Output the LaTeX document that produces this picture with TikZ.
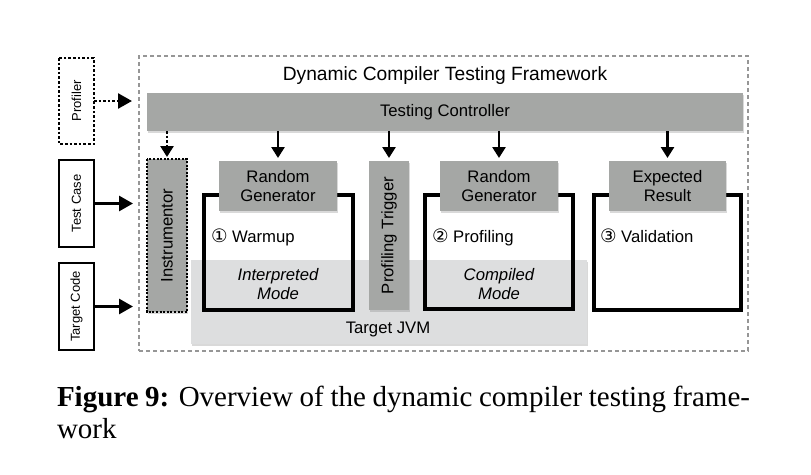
\documentclass[tikz,border=0pt]{standalone}
\usepackage{fontspec}
\usepackage{graphicx}
\setmainfont{Liberation Sans}
\newfontfamily\capfont{Liberation Serif}
\newfontfamily\symfont{DejaVu Sans}
\usetikzlibrary{arrows.meta,shadows}
\definecolor{boxgray}{RGB}{165,167,165}
\definecolor{jvmgray}{RGB}{221,222,223}
\definecolor{dashgray}{RGB}{150,150,150}
\newcommand{\fsz}[2]{\fontsize{#1}{#2}\selectfont}
\newcommand{\circnum}[1]{{\symfont\fontsize{18.5}{19}\selectfont #1}}
\begin{document}
\begin{tikzpicture}[x=1pt,y=-1pt,
  every node/.style={inner sep=0pt, outer sep=0pt},
  softshadow/.style={drop shadow={shadow xshift=1.2pt, shadow yshift=-1.8pt, opacity=0.3}},
  graybox/.style={fill=boxgray, softshadow, align=center, font=\fsz{16.7}{19}},
  sidebox/.style={draw=black, line width=2pt, fill=white, font=\fsz{13}{15}},
  stagebox/.style={draw=black, line width=4pt},
  fwbox/.style={draw=dashgray, line width=2pt, dash pattern=on 4pt off 3pt},
  dotline/.style={line width=2.6pt, dash pattern=on 2.6pt off 2pt},
  sidearrow/.style={line width=2.8pt, -{Triangle[length=14pt,width=15pt]}},
  downarrow/.style={line width=2.6pt, -{Triangle[length=11pt,width=13pt]}},
  lbl/.style={font=\fsz{16.7}{19}},
  ilbl/.style={font=\fsz{16.7}{19}\itshape, align=center}
]
\useasboundingbox (0,0) rectangle (811,474);

% framework frame
\node[fwbox, minimum width=609pt, minimum height=295pt] (fw) at (443.5,203.5) {};
\node[anchor=base, font=\fsz{19.2}{22}] (title) at (445,80) {Dynamic Compiler Testing Framework};

% testing controller
\node[graybox, minimum width=596pt, minimum height=38pt] (ctrl) at (445,112) {Testing Controller};

% side inputs
\node[sidebox, draw=none, minimum width=35pt, minimum height=86pt] (profiler) at (76.5,101) {\rotatebox{90}{Profiler}};
\draw[dotline, line width=2.8pt] (profiler.north west) rectangle (profiler.south east);
\node[sidebox, minimum width=35pt, minimum height=87pt] (testcase) at (76.5,203.5) {\rotatebox{90}{Test Case}};
\node[sidebox, minimum width=35pt, minimum height=87pt] (targetcode) at (76.5,306.5) {\rotatebox{90}{Target Code}};

% target JVM region
\node[fill=jvmgray, softshadow, minimum width=396pt, minimum height=84pt] (jvm) at (389,302) {};
\node[lbl, anchor=center] (jvmlabel) at (388,329) {Target JVM};

% instrumentor
\node[graybox, minimum width=40pt, minimum height=153pt] (instr) at (167,235.5) {\rotatebox{90}{Instrumentor}};
\draw[dotline, line width=2.2pt, dash pattern=on 2pt off 1.6pt] (instr.north west) rectangle (instr.south east);

% stage frames
\node[stagebox, minimum width=149pt, minimum height=115pt] (frame1) at (278.5,252.5) {};
\node[stagebox, minimum width=148pt, minimum height=114pt] (frame2) at (499,252) {};
\node[stagebox, minimum width=147pt, minimum height=115pt] (frame3) at (667.5,252.5) {};

% gray boxes on top of frames
\node[graybox, minimum width=118pt, minimum height=50pt] (rg1) at (278,186) {Random\\Generator};
\node[graybox, minimum width=40pt, minimum height=149pt] (pt) at (389,235.5) {\rotatebox{90}{Profiling Trigger}};
\node[graybox, minimum width=118pt, minimum height=50pt] (rg2) at (499,186) {Random\\Generator};
\node[graybox, minimum width=117pt, minimum height=50pt] (er) at (667.5,186) {Expected\\Result};

% labels inside frames
\node[lbl, anchor=base west] (warmup) at (211,242) {\circnum{①} Warmup};
\node[ilbl] (interp) at (278,284) {Interpreted\\Mode};
\node[lbl, anchor=base west] (profiling) at (432,242) {\circnum{②} Profiling};
\node[ilbl] (compiled) at (499,284) {Compiled\\Mode};
\node[lbl, anchor=base west] (validation) at (600,242) {\circnum{③} Validation};

% arrows
\draw[dotline, -{Triangle[length=14pt,width=15pt]}, shorten >=7pt] (profiler.east) -- (fw.west |- profiler.east);
\draw[sidearrow, shorten >=6pt] (testcase.east) -- (fw.west |- testcase.east);
\draw[sidearrow, shorten >=6pt] (targetcode.east) -- (fw.west |- targetcode.east);

\draw[dotline, -{Triangle[length=11pt,width=13pt]}, shorten >=2pt] (ctrl.south -| instr.north) -- (instr.north);
\draw[downarrow, shorten >=3pt] (ctrl.south -| rg1.north) -- (rg1.north);
\draw[downarrow, shorten >=3pt] (ctrl.south -| pt.north) -- (pt.north);
\draw[downarrow, shorten >=3pt] (ctrl.south -| rg2.north) -- (rg2.north);
\draw[downarrow, shorten >=3pt] (ctrl.south -| er.north) -- (er.north);

% caption
\node[anchor=base west, font=\capfont\fsz{29}{33}] (cap1) at (57,406) {\hbox to 693pt{\textbf{Figure 9:} Overview of the dynamic compiler testing frame-}};
\node[anchor=base west, font=\capfont\fsz{29}{33}] (cap2) at (57,438) {work};
\end{tikzpicture}
\end{document}
